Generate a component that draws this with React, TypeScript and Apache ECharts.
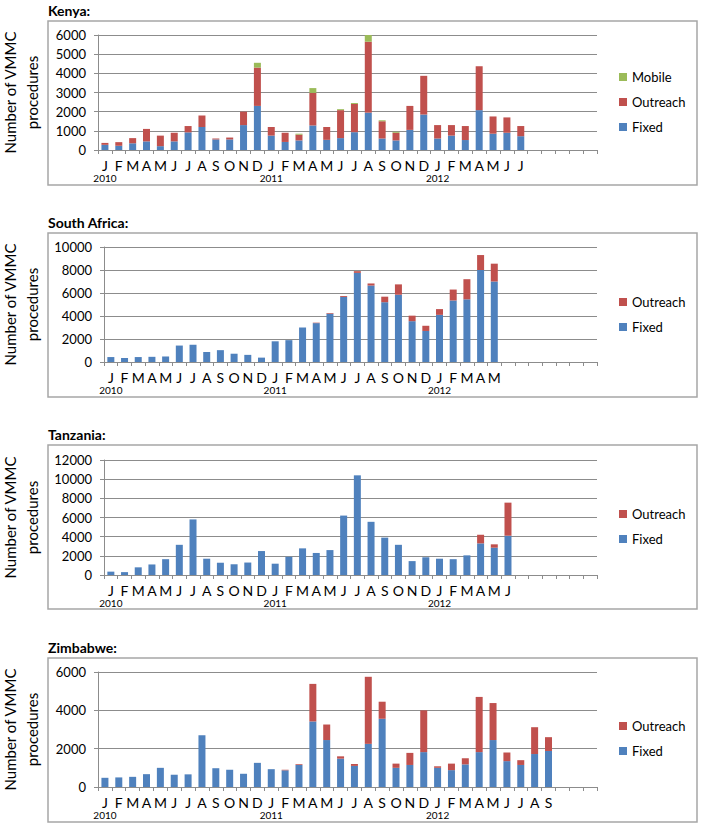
import React, { useEffect, useRef } from "react";
import * as echarts from "echarts";

const FONT = 'Lato, "Open Sans", "Noto Sans", sans-serif';

// Tick labels
const monthLetters = ["J", "F", "M", "A", "M", "J", "J", "A", "S", "O", "N", "D"];
const years = ["2010", "2011", "2012"];
const categories: string[] = [];
years.forEach((y) => monthLetters.forEach((_, m) => categories.push(`${y}-${m + 1}`)));

// Kenya
const kenyaFixed = [270, 220, 350, 450, 200, 450, 920, 1200, 550, 550, 1300, 2300, 750, 420, 500, 1280, 530, 620, 930, 1950, 600, 500, 1050, 1850, 600, 750, 520, 2080, 850, 900, 720];
const kenyaOutreach = [100, 190, 270, 650, 550, 450, 330, 600, 50, 100, 700, 2000, 450, 480, 300, 1700, 670, 1460, 1470, 3700, 900, 400, 1250, 2020, 700, 550, 730, 2290, 900, 800, 530];
const kenyaMobile = [0, 0, 0, 0, 0, 0, 0, 0, 0, 0, 0, 250, 0, 0, 50, 250, 0, 50, 50, 350, 50, 50, 0, 0, 0, 0, 0, 0, 0, 0, 0];

// South Africa
const saFixed = [430, 350, 430, 450, 480, 1430, 1500, 870, 1030, 720, 620, 380, 1800, 1900, 3000, 3380, 4200, 5650, 7750, 6650, 5200, 5850, 3550, 2700, 4100, 5350, 5450, 8000, 7000];
const saOutreach = [0, 0, 0, 0, 0, 0, 0, 0, 0, 0, 0, 0, 0, 0, 0, 40, 60, 80, 150, 180, 480, 900, 480, 450, 500, 950, 1750, 1300, 1550];

// Tanzania
const tzFixed = [350, 300, 800, 1100, 1650, 3150, 5800, 1700, 1280, 1120, 1300, 2500, 1180, 1900, 2780, 2300, 2600, 6200, 10400, 5550, 3900, 3150, 1450, 1850, 1700, 1650, 2050, 3300, 2850, 4100];
const tzOutreach = [0, 0, 0, 0, 0, 0, 0, 0, 0, 0, 0, 0, 0, 0, 0, 0, 0, 0, 0, 0, 0, 0, 0, 0, 0, 0, 0, 900, 350, 3450];

// Zimbabwe
const zimFixed = [480, 500, 530, 670, 1000, 640, 660, 2700, 980, 900, 690, 1260, 930, 870, 1150, 3420, 2450, 1480, 1100, 2250, 3560, 1000, 1150, 1820, 1000, 880, 1180, 1820, 2450, 1350, 1150, 1720, 1880];
const zimOutreach = [0, 0, 0, 0, 0, 0, 0, 0, 0, 0, 0, 0, 0, 30, 40, 1960, 810, 120, 100, 3500, 890, 220, 630, 2180, 80, 340, 320, 2880, 1930, 450, 250, 1400, 720];

const COLORS = { Fixed: "#4F81BD", Outreach: "#C0504D", Mobile: "#9BBB59" };
const GRID_COLOR = "#8c8c8c";

type Panel = {
  title: string;
  series: { name: "Fixed" | "Outreach" | "Mobile"; data: number[] }[];
  max: number;
  interval: number;
  labelCount: number;
  boxTop: number;
  gridTop: number;
  gridLeft: number;
  legendTop: number;
};

const panels: Panel[] = [
  {
    title: "Kenya:",
    series: [
      { name: "Fixed", data: kenyaFixed },
      { name: "Outreach", data: kenyaOutreach },
      { name: "Mobile", data: kenyaMobile },
    ],
    max: 6000,
    interval: 1000,
    labelCount: kenyaFixed.length,
    boxTop: 21,
    gridTop: 35,
    gridLeft: 98,
    legendTop: 69,
  },
  {
    title: "South Africa:",
    series: [
      { name: "Fixed", data: saFixed },
      { name: "Outreach", data: saOutreach },
    ],
    max: 10000,
    interval: 2000,
    labelCount: saFixed.length,
    boxTop: 233,
    gridTop: 247,
    gridLeft: 104,
    legendTop: 294,
  },
  {
    title: "Tanzania:",
    series: [
      { name: "Fixed", data: tzFixed },
      { name: "Outreach", data: tzOutreach },
    ],
    max: 12000,
    interval: 2000,
    labelCount: tzFixed.length,
    boxTop: 445,
    gridTop: 460,
    gridLeft: 104,
    legendTop: 506,
  },
  {
    title: "Zimbabwe:",
    series: [
      { name: "Fixed", data: zimFixed },
      { name: "Outreach", data: zimOutreach },
    ],
    max: 6000,
    interval: 2000,
    labelCount: zimFixed.length,
    boxTop: 658,
    gridTop: 672,
    gridLeft: 98,
    legendTop: 718,
  },
];

const GRID_H = 115;
const BOX_H = 164;

function buildOption() {
  const grid: any[] = [];
  const xAxis: any[] = [];
  const yAxis: any[] = [];
  const series: any[] = [];
  const legend: any[] = [];
  const graphic: any[] = [];

  panels.forEach((p, i) => {
    grid.push({ left: p.gridLeft, right: 104, top: p.gridTop, height: GRID_H, containLabel: false });
    xAxis.push({
      type: "category",
      gridIndex: i,
      data: categories,
      axisLine: { show: true, lineStyle: { color: GRID_COLOR, width: 1 } },
      axisTick: { show: true, interval: 0, length: 4, lineStyle: { color: GRID_COLOR } },
      axisLabel: {
        interval: 0,
        margin: 7,
        color: "#000",
        fontFamily: FONT,
        formatter: (_v: string, idx: number) => {
          if (idx >= p.labelCount) return "";
          const m = idx % 12;
          const letter = monthLetters[m];
          if (m === 0) return `{m|${letter}}\n{y|${years[Math.floor(idx / 12)]}}`;
          return `{m|${letter}}`;
        },
        rich: {
          m: { fontSize: 14, lineHeight: 16, fontFamily: FONT, color: "#000" },
          y: { fontSize: 10, lineHeight: 10, fontFamily: FONT, color: "#000" },
        },
      },
      splitLine: { show: false },
    });
    yAxis.push({
      type: "value",
      gridIndex: i,
      min: 0,
      max: p.max,
      interval: p.interval,
      axisLine: { show: true, lineStyle: { color: GRID_COLOR, width: 1 } },
      axisTick: { show: true, length: 4, lineStyle: { color: GRID_COLOR } },
      axisLabel: {
        color: "#000",
        fontSize: 13,
        fontFamily: FONT,
        margin: 12,
        formatter: (v: number) => String(v),
      },
      splitLine: { show: true, lineStyle: { color: GRID_COLOR, width: 1 } },
    });
    p.series.forEach((s) => {
      series.push({
        type: "bar",
        name: s.name,
        xAxisIndex: i,
        yAxisIndex: i,
        stack: `stack${i}`,
        barWidth: 7,
        data: s.data,
        itemStyle: { color: COLORS[s.name] },
      });
    });
    legend.push({
      orient: "vertical",
      left: 619,
      top: p.legendTop,
      padding: 0,
      itemWidth: 8,
      itemHeight: 8,
      itemGap: 9,
      icon: "rect",
      selectedMode: false,
      data: p.series.map((s) => s.name).reverse(),
      textStyle: { fontSize: 13, lineHeight: 16, fontFamily: FONT, color: "#000" },
    });
    graphic.push({
      type: "rect",
      silent: true,
      z: -10,
      shape: { x: 48, y: p.boxTop, width: 649, height: BOX_H },
      style: { fill: "#fff", stroke: "#a6a6a6", lineWidth: 1.5 },
    });
    graphic.push({
      type: "text",
      x: 48,
      y: p.boxTop - 11,
      style: {
        text: p.title,
        fill: "#000",
        fontSize: 14,
        fontWeight: "bold",
        fontFamily: FONT,
        verticalAlign: "middle",
        textAlign: "left",
      },
    });
    graphic.push({
      type: "text",
      x: 21,
      y: p.gridTop + GRID_H / 2,
      rotation: Math.PI / 2,
      style: {
        text: "Number of VMMC\nprocedures",
        fill: "#000",
        fontSize: 15,
        lineHeight: 22,
        fontFamily: FONT,
        align: "center",
        textAlign: "center",
        verticalAlign: "middle",
      },
    });
  });

  return {
    animation: false,
    backgroundColor: "#fff",
    textStyle: { fontFamily: FONT },
    grid,
    xAxis,
    yAxis,
    series,
    legend,
    graphic,
  };
}

export default function App() {
  const ref = useRef<HTMLDivElement>(null);
  useEffect(() => {
    document.body.style.margin = "0";
    if (!ref.current) return;
    const chart = echarts.init(ref.current, undefined, { renderer: "svg" });
    chart.setOption(buildOption() as any);
    return () => chart.dispose();
  }, []);
  return <div ref={ref} style={{ width: 701, height: 826 }} />;
}
